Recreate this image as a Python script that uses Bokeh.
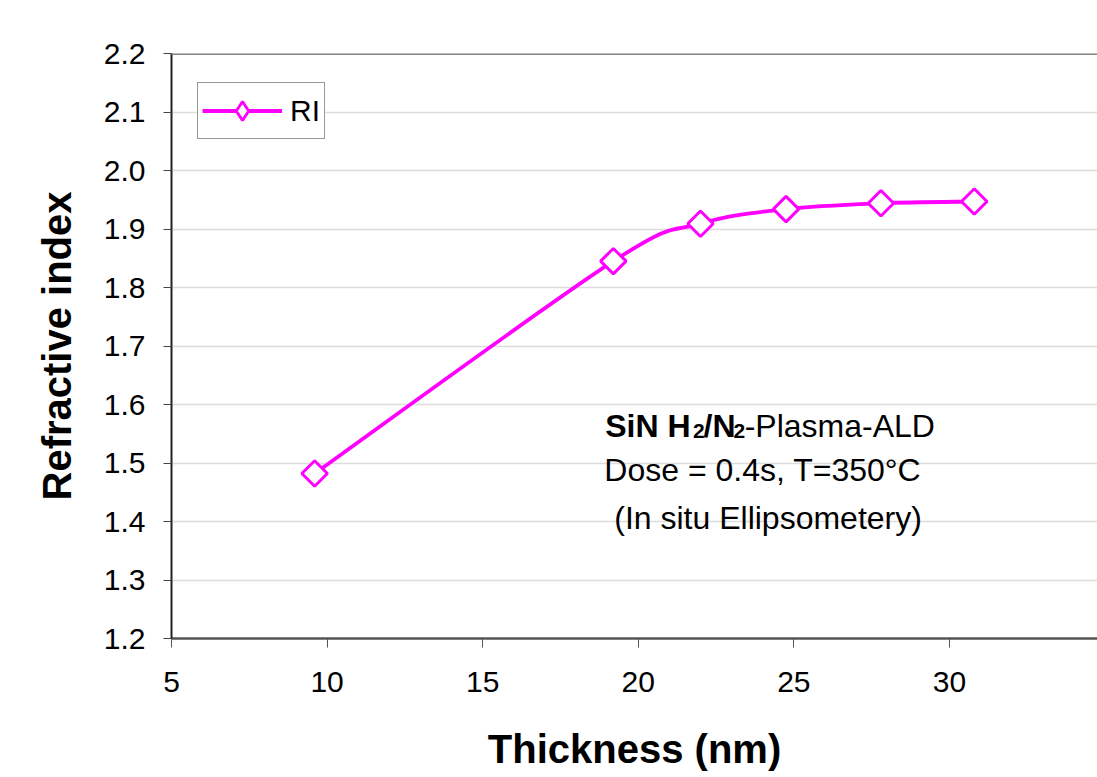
import numpy as np
from bokeh.plotting import figure
from bokeh.models import (Range1d, FixedTicker, Span, Label, Legend, LegendItem,
                          NumeralTickFormatter)
from bokeh.embed import file_html
from bokeh.resources import INLINE

# ---- data ----
thickness_nm = [9.6, 19.2, 22.0, 24.75, 27.8, 30.8]
refractive_index = [1.482, 1.845, 1.909, 1.934, 1.944, 1.947]
series_label = "RI"
x_ticks = [5, 10, 15, 20, 25, 30, 35]
y_ticks = [1.2, 1.3, 1.4, 1.5, 1.6, 1.7, 1.8, 1.9, 2.0, 2.1, 2.2]
x_title = "Thickness (nm)"
y_title = "Refractive index"
note_line1_parts = ["SiN H", "2", "/N", "2", "-Plasma-ALD"]
note_line2 = "Dose = 0.4s, T=350\u00b0C"
note_line3 = "(In situ Ellipsometery)"

FONT = "Liberation Sans"
MAGENTA = "#FF00FF"

# Smoothed connecting line (Excel-style): cubic Bezier control points derived from the data
x = np.array(thickness_nm)
y = np.array(refractive_index)
n = len(x)
px = np.concatenate([[x[0]], x, [x[-1]]])
py = np.concatenate([[y[0]], y, [y[-1]]])
cx0 = px[1:n] + (px[2:n + 1] - px[0:n - 1]) / 6
cy0 = py[1:n] + (py[2:n + 1] - py[0:n - 1]) / 6
cx1 = px[2:n + 1] - (px[3:n + 2] - px[1:n]) / 6
cy1 = py[2:n + 1] - (py[3:n + 2] - py[1:n]) / 6

p = figure(width=1097, height=777,
           x_range=Range1d(5, 34.76), y_range=Range1d(1.2, 2.2),
           output_backend="svg", toolbar_location=None,
           min_border_left=171, min_border_right=0,
           min_border_top=53, min_border_bottom=139)
p.extra_y_ranges = {"legend_only": Range1d(100, 101)}
p.outline_line_color = None
p.background_fill_color = "white"
p.border_fill_color = "white"

# grid
p.xgrid.visible = False
p.ygrid.grid_line_color = "#dcdcdc"
p.ygrid.grid_line_width = 1.5

# axes
p.xaxis.ticker = FixedTicker(ticks=x_ticks)
p.yaxis.ticker = FixedTicker(ticks=y_ticks)
p.yaxis.formatter = NumeralTickFormatter(format="0.0")
p.xaxis.formatter = NumeralTickFormatter(format="0")
for ax in (p.xaxis, p.yaxis):
    ax.major_label_text_font = FONT
    ax.major_label_text_font_size = "30px"
    ax.major_label_text_color = "black"
    ax.minor_tick_line_color = None
    ax.major_tick_in = 0
    ax.axis_label_text_font = FONT
    ax.axis_label_text_font_style = "bold"
    ax.axis_label_text_font_size = "40px"
    ax.axis_label_text_color = "black"
p.xaxis.axis_line_color = "#555555"
p.xaxis.axis_line_width = 2.5
p.xaxis.major_tick_line_color = "#555555"
p.xaxis.major_tick_out = 9
p.xaxis.major_label_standoff = 24
p.xaxis.axis_label = x_title
p.xaxis.axis_label_standoff = 32
p.yaxis.axis_line_color = "#222222"
p.yaxis.axis_line_width = 2
p.yaxis.major_tick_line_color = "#444444"
p.yaxis.major_tick_out = 8
p.yaxis.major_label_standoff = 18
p.yaxis.axis_label = y_title
p.yaxis.axis_label_standoff = 22

# top border of the plot area
p.add_layout(Span(location=2.2, dimension="width", line_color="#808080", line_width=3))

curve = p.bezier(x0=x[:-1], y0=y[:-1], x1=x[1:], y1=y[1:],
                 cx0=cx0, cy0=cy0, cx1=cx1, cy1=cy1,
                 line_color=MAGENTA, line_width=3.8)
pts = p.scatter(x=thickness_nm, y=refractive_index, marker="square", angle=np.pi / 4,
                size=18, fill_color="white", line_color=MAGENTA, line_width=3)
# same series drawn on an off-screen range, only to give the legend a diamond key
legend_key = p.scatter(x=thickness_nm, y=refractive_index, marker="diamond",
                       y_range_name="legend_only", size=18, fill_color="white",
                       line_color=MAGENTA, line_width=2.8)

legend = Legend(items=[LegendItem(label=series_label, renderers=[curve, legend_key])],
                location=(26, 499), padding=4, margin=0, spacing=0,
                glyph_width=80, glyph_height=47, label_standoff=8,
                label_text_font=FONT, label_text_font_size="30px",
                label_text_color="black",
                border_line_color="#333333", border_line_width=1.2,
                background_fill_color="white", background_fill_alpha=1)
p.add_layout(legend)

# annotation text (baselines in data units)
big = "32px"
common = dict(text_font=FONT, text_color="black", text_baseline="alphabetic")
line1_x = [18.94, 21.76, 22.10, 23.06, 23.42]
line1_y = [1.5641, 1.5555, 1.5641, 1.5555, 1.5641]
line1_size = [big, "21px", big, "21px", big]
line1_style = ["bold", "bold", "bold", "bold", "normal"]
for t, xx, yy, fs, st in zip(note_line1_parts, line1_x, line1_y, line1_size, line1_style):
    p.add_layout(Label(x=xx, y=yy, text=t, text_font_size=fs, text_font_style=st, **common))
p.add_layout(Label(x=18.91, y=1.4872, text=note_line2, text_font_size=big, **common))
p.add_layout(Label(x=19.23, y=1.4068, text=note_line3, text_font_size=big, **common))

open("out.html", "w").write(file_html(p, INLINE))
